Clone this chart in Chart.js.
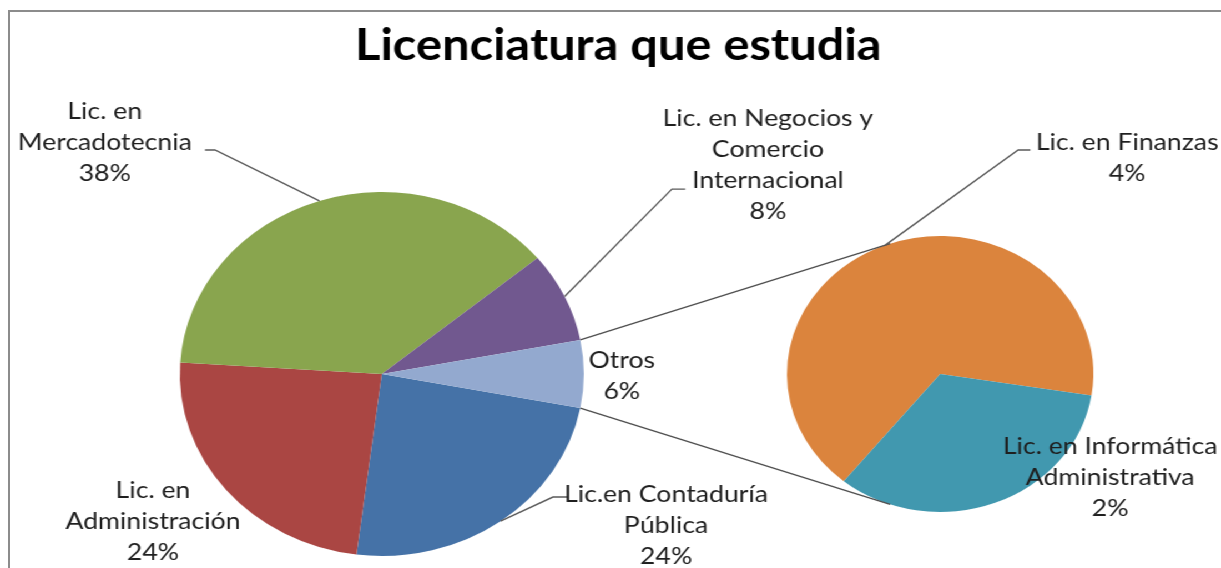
<!DOCTYPE html>
<html>
<head>
<meta charset="utf-8">
<script src="https://cdn.jsdelivr.net/npm/chart.js@4.4.0/dist/chart.umd.min.js"></script>
<style>
html, body { margin: 0; padding: 0; background: #fff; overflow: hidden; }
#frame { position: absolute; left: 8px; top: 10px; width: 1300px; height: 600px;
  border-left: 2px solid #8c8c8c; border-top: 2px solid #8c8c8c; }
/* the original picture is stretched sideways, so the pies are a little wide */
#stretch { position: absolute; left: 0; top: 0; width: 1100px; height: 568px;
  transform: scaleX(1.11); transform-origin: 0 0; }
.layer { position: absolute; left: 0; top: 0; width: 1100px; height: 568px; }
</style>
</head>
<body>
<div id="frame"></div>
<div id="stretch">
  <div class="layer"><canvas id="mainPie"></canvas></div>
  <div class="layer"><canvas id="subPie"></canvas></div>
</div>
<script>
const chartTitle = 'Licenciatura que estudia';

// main pie, clockwise from just below 3 o'clock
const mainLabels = [
  ['Lic.en Contaduría', 'Pública'],
  ['Lic. en', 'Administración'],
  ['Lic. en', 'Mercadotecnia'],
  ['Lic. en Negocios y', 'Comercio', 'Internacional'],
  ['Otros']
];
const mainValues = [24, 24, 38, 8, 6];
const mainColors = ['#4572A7', '#AA4643', '#89A54E', '#71588F', '#93A9CF'];

// second pie = breakdown of "Otros"
const subLabels = [
  ['Lic. en Finanzas'],
  ['Lic. en Informática', 'Administrativa']
];
const subValues = [4, 2];
const subColors = ['#DB843D', '#4198AF'];

// label placement, in pie radii from the pie centre
const mainLabelPos = [[1.407, 0.83], [-1.133, 0.808], [-1.371, -1.275], [1.911, -1.148], [1.188, 0.008]];
const mainLeaders = [[0.847, 0.676, 13], null, [-0.826, -1.231, -9], [1.436, -1.016, 12], null];
const subLabelPos = [[1.221, -1.569], [1.11, 0.75]];
const subLeaders = [[0.509, -1.623, 11], null];

const FONT = 'Lato, "Open Sans", sans-serif';
const LINE_H = 31;

const otrosShare = mainValues[4] / mainValues.reduce((a, b) => a + b, 0) * 360;

function edgePoint(arc, ang) {
  return { x: arc.x + arc.outerRadius * Math.cos(ang), y: arc.y + arc.outerRadius * Math.sin(ang) };
}

function drawText(ctx, lines, x, y) {
  lines.forEach((t, i) => ctx.fillText(t, x, y + (i - (lines.length - 1) / 2) * LINE_H));
}

function drawLeader(ctx, arc, leader) {
  const mid = (arc.startAngle + arc.endAngle) / 2;
  const p = edgePoint(arc, mid);
  const ex = arc.x + leader[0] * arc.outerRadius;
  const ey = arc.y + leader[1] * arc.outerRadius;
  ctx.beginPath();
  ctx.moveTo(p.x, p.y);
  ctx.lineTo(ex, ey);
  ctx.lineTo(ex + leader[2], ey);
  ctx.stroke();
}

function tangent(p, c, r, upper) {
  const d = Math.hypot(p.x - c.x, p.y - c.y);
  const base = Math.atan2(p.y - c.y, p.x - c.x);
  const a = Math.acos(r / d);
  const t1 = { x: c.x + r * Math.cos(base + a), y: c.y + r * Math.sin(base + a) };
  const t2 = { x: c.x + r * Math.cos(base - a), y: c.y + r * Math.sin(base - a) };
  if (upper) return t1.y < t2.y ? t1 : t2;
  return t1.y > t2.y ? t1 : t2;
}

const overlay = {
  id: 'overlay',
  afterDraw(chart) {
    const ctx = chart.ctx;
    const mArcs = mainChart.getDatasetMeta(0).data;
    const sArcs = chart.getDatasetMeta(0).data;
    ctx.save();

    // lines joining "Otros" to the second pie
    const otros = mArcs[4];
    const sub = sArcs[0];
    const c2 = { x: sub.x, y: sub.y };
    const top = edgePoint(otros, otros.startAngle);
    const bot = edgePoint(otros, otros.endAngle);
    const t1 = tangent(top, c2, sub.outerRadius, true);
    const t2 = tangent(bot, c2, sub.outerRadius, false);
    ctx.strokeStyle = '#4d4d4d';
    ctx.lineWidth = 1.3;
    ctx.beginPath();
    ctx.moveTo(top.x, top.y); ctx.lineTo(t1.x, t1.y);
    ctx.moveTo(bot.x, bot.y); ctx.lineTo(t2.x, t2.y);
    ctx.stroke();

    // leader lines
    ctx.strokeStyle = '#5a5a5a';
    ctx.lineWidth = 1.4;
    mArcs.forEach((arc, i) => { if (mainLeaders[i]) drawLeader(ctx, arc, mainLeaders[i]); });
    sArcs.forEach((arc, i) => { if (subLeaders[i]) drawLeader(ctx, arc, subLeaders[i]); });

    // data labels
    ctx.fillStyle = '#1f1f1f';
    ctx.font = '24px ' + FONT;
    ctx.textAlign = 'center';
    ctx.textBaseline = 'middle';
    mArcs.forEach((arc, i) => {
      const pos = mainLabelPos[i];
      drawText(ctx, mainLabels[i].concat(mainValues[i] + '%'),
        arc.x + pos[0] * arc.outerRadius, arc.y + pos[1] * arc.outerRadius);
    });
    sArcs.forEach((arc, i) => {
      const pos = subLabelPos[i];
      drawText(ctx, subLabels[i].concat(subValues[i] + '%'),
        arc.x + pos[0] * arc.outerRadius, arc.y + pos[1] * arc.outerRadius);
    });

    // title
    ctx.fillStyle = '#000';
    ctx.font = 'bold 44px ' + FONT;
    ctx.textBaseline = 'alphabetic';
    ctx.fillText(chartTitle, 557, 60);
    ctx.restore();
  }
};

const baseOptions = {
  responsive: true,
  maintainAspectRatio: false,
  animation: false,
  events: [],
  plugins: { legend: { display: false }, tooltip: { enabled: false }, title: { display: false } }
};

const mainChart = new Chart(document.getElementById('mainPie'), {
  type: 'pie',
  data: {
    labels: mainLabels,
    datasets: [{ data: mainValues, backgroundColor: mainColors, borderWidth: 0 }]
  },
  options: Object.assign({}, baseOptions, {
    rotation: 90 + otrosShare / 2,
    layout: { padding: { left: 162, top: 192, right: 574, bottom: 12 } }
  })
});

const subChart = new Chart(document.getElementById('subPie'), {
  type: 'pie',
  data: {
    labels: subLabels,
    datasets: [{ data: subValues, backgroundColor: subColors, borderWidth: 0 }]
  },
  options: Object.assign({}, baseOptions, {
    rotation: 219,
    layout: { padding: { left: 709, top: 236, right: 115, bottom: 56 } }
  }),
  plugins: [overlay]
});
</script>
</body>
</html>
